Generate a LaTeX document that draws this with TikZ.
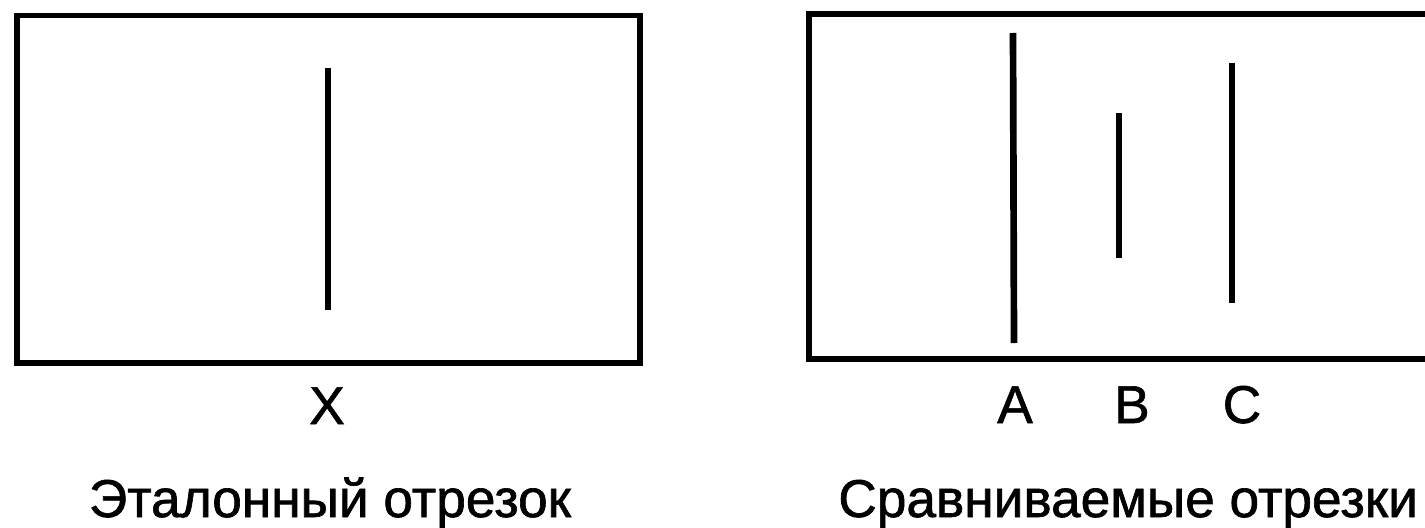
\documentclass[tikz,border=0pt]{standalone}
\usepackage{fontspec}
\setmainfont{Liberation Sans}
\newfontface\txtface{Liberation Sans}[FakeBold=1.2]
\begin{document}
\begin{tikzpicture}[x=0.02cm, y=-0.02cm,
    frame/.style={line width=2.9pt},
    seg/.style={line width=3.8pt},
    lbl/.style={font=\txtface\fontsize{30.3}{36}\selectfont, inner sep=0pt, anchor=base}]
        % Canvas
        \useasboundingbox (0,0) rectangle (1425,527);
        \clip (0,0) rectangle (1425,527);

        % Frames
        \draw[frame] (17,15.5) rectangle (640,363);
        \draw[frame] (809,14) rectangle (1460,359);

        % Segment end points
        \coordinate (Xt) at (328,68); \coordinate (Xb) at (328,310);
        \coordinate (At) at (1013,33); \coordinate (Ab) at (1014,343);
        \coordinate (Bt) at (1119,113); \coordinate (Bb) at (1119,258);
        \coordinate (Ct) at (1232,63); \coordinate (Cb) at (1232,303);

        % Draw segments
        \draw[seg] (Xt) -- (Xb); \draw[seg] (At) -- (Ab);
        \draw[seg] (Bt) -- (Bb); \draw[seg] (Ct) -- (Cb);

        % Letters
        \node[lbl] (X) at (327,424) {X};
        \node[lbl] (A) at (1015,423) {A}; \node[lbl] (B) at (1132,423) {B};
        \node[lbl] (C) at (1242,423) {C};

        % Captions
        \node[lbl] (ref) at (330,517) {Эталонный отрезок};
        \node[lbl, anchor=base west] (cmp) at (838,517) {Сравниваемые отрезки};
\end{tikzpicture}
\end{document}
